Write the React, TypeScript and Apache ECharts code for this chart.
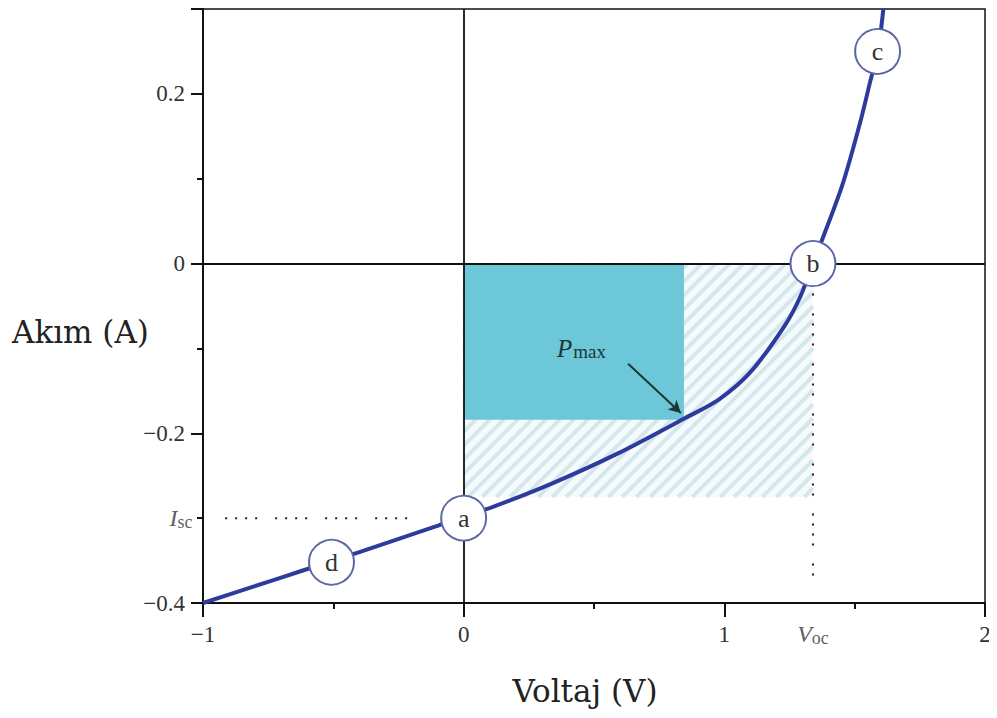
import React, { useEffect, useRef } from "react";
import * as echarts from "echarts";

// I-V curve of a solar cell (voltage V, current A)
const curveV = [-1, -0.81, -0.62, -0.4, -0.11, 0, 0.11, 0.34, 0.59, 0.85, 0.98, 1.1, 1.23, 1.29, 1.34, 1.45, 1.52, 1.56, 1.59, 1.61];
const curveI = [-0.4, -0.381, -0.362, -0.34, -0.31, -0.298, -0.287, -0.259, -0.224, -0.182, -0.16, -0.128, -0.074, -0.04, 0, 0.09, 0.165, 0.215, 0.252, 0.3];

const pointLabels = ["a", "b", "c", "d"];
const pointV = [0, 1.34, 1.588, -0.507];
const pointI = [-0.3, 0, 0.25, -0.352];

const Isc = -0.3;
const Voc = 1.34;
const Pmax = [0.845, -0.184];
const hatchBottom = -0.275;
const iscLineV = [-0.915, -0.16];
const vocLineI = [0, -0.376];
const arrowFrom = [0.631, -0.118];
const arrowTo = [0.833, -0.176];

const xTicks = [-1, 0, 1, 2];
const yTicks = [-0.4, -0.2, 0, 0.2];

const fmt = (v: number) => (v < 0 ? "\u2212" + String(Math.abs(v)) : String(v));

export default function App() {
  const ref = useRef<HTMLDivElement>(null);
  useEffect(() => {
    if (!ref.current) return;
    const chart = echarts.init(ref.current, null, { renderer: "svg" });
    const dot = [2, 8, 2, 8, 2, 8, 2, 18];
    const option: any = {
      animation: false,
      backgroundColor: "#ffffff",
      grid: {
        left: 203,
        right: 12,
        top: 9,
        bottom: 115,
        show: true,
        borderColor: "#111",
        borderWidth: 1.5,
        backgroundColor: "transparent",
      },
      xAxis: {
        type: "value",
        min: -1,
        max: 2,
        interval: 1,
        axisLine: { onZero: false, lineStyle: { color: "#111", width: 2 } },
        axisTick: { show: true, inside: false, length: 14, lineStyle: { color: "#111", width: 2 } },
        minorTick: { show: true, splitNumber: 2, length: 6, lineStyle: { color: "#111", width: 2 } },
        splitLine: { show: false },
        axisLabel: {
          margin: 20,
          fontFamily: "Liberation Serif",
          fontSize: 23,
          color: "#333",
          formatter: (v: number) => (xTicks.includes(v) ? fmt(v) : ""),
        },
      },
      yAxis: {
        type: "value",
        min: -0.4,
        max: 0.3,
        interval: 0.2,
        axisLine: { onZero: false, lineStyle: { color: "#111", width: 2 } },
        axisTick: { show: true, inside: false, length: 12, lineStyle: { color: "#111", width: 2 } },
        minorTick: { show: true, splitNumber: 2, length: 6, lineStyle: { color: "#111", width: 2 } },
        splitLine: { show: false },
        axisLabel: {
          margin: 18,
          fontFamily: "Liberation Serif",
          fontSize: 23,
          color: "#333",
          formatter: (v: number) => {
            const r = Math.round(v * 10) / 10;
            return yTicks.includes(r) ? fmt(r) : "";
          },
        },
      },
      graphic: [
        {
          type: "text",
          x: 12,
          y: 332,
          style: { text: "Akım (A)", font: "31px 'DejaVu Serif'", fill: "#222", textAlign: "left", textVerticalAlign: "middle" },
        },
        {
          type: "text",
          x: 585,
          y: 691,
          style: { text: "Voltaj (V)", font: "31px 'DejaVu Serif'", fill: "#222", textAlign: "center", textVerticalAlign: "middle" },
        },
        {
          type: "text",
          left: 557,
          top: 336,
          z: 50,
          style: {
            text: "{p|P}{m|max}",
            rich: {
              p: { fontFamily: "Liberation Serif", fontStyle: "italic", fontSize: 25, fill: "#1f3535", padding: [0, 1, 0, 0] },
              m: { fontFamily: "Liberation Serif", fontSize: 19, fill: "#1f3535", padding: [5, 0, 0, 0] },
            },
          },
        },
      ],
      series: [
        {
          type: "custom",
          z: 1,
          clip: false,
          silent: true,
          data: [[0, 0, Voc, hatchBottom]],
          renderItem: (params: any, api: any) => {
            const p0 = api.coord([api.value(0), api.value(1)]);
            const p1 = api.coord([api.value(2), api.value(3)]);
            const L = p0[0], T = p0[1], R = p1[0], B = p1[1];
            const children: any[] = [
              { type: "rect", shape: { x: L, y: T, width: R - L, height: B - T }, style: { fill: "#f5fafc" } },
            ];
            const step = 14;
            for (let c = L + T; c <= R + B; c += step) {
              const xa = Math.max(L, c - B);
              const xb = Math.min(R, c - T);
              if (xb > xa) {
                children.push({
                  type: "line",
                  shape: { x1: xa, y1: c - xa, x2: xb, y2: c - xb },
                  style: { stroke: "#d4e7ed", lineWidth: 4 },
                });
              }
            }
            return { type: "group", children };
          },
        },
        {
          type: "custom",
          z: 2,
          clip: false,
          silent: true,
          data: [[0, 0, Pmax[0], Pmax[1]]],
          renderItem: (params: any, api: any) => {
            const p0 = api.coord([api.value(0), api.value(1)]);
            const p1 = api.coord([api.value(2), api.value(3)]);
            return {
              type: "rect",
              shape: { x: p0[0], y: p0[1], width: p1[0] - p0[0], height: p1[1] - p0[1] },
              style: { fill: "#6cc8d8" },
            };
          },
        },
        {
          type: "line",
          z: 3,
          data: [],
          markLine: {
            silent: true,
            symbol: ["none", "none"],
            label: { show: false },
            lineStyle: { color: "#111", width: 1.8, type: "solid" },
            data: [{ xAxis: 0 }, { yAxis: 0 }],
          },
        },
        {
          type: "line",
          z: 3,
          data: [
            [iscLineV[0], Isc],
            [iscLineV[1], Isc],
          ],
          symbol: "none",
          lineStyle: { color: "#222", width: 2, type: dot },
        },
        {
          type: "line",
          z: 3,
          data: [
            [Voc, vocLineI[0]],
            [Voc, vocLineI[1]],
          ],
          symbol: "none",
          lineStyle: { color: "#222", width: 2, type: dot },
        },
        {
          type: "line",
          z: 5,
          smooth: 0.3,
          symbol: "none",
          data: curveV.map((v, i) => [v, curveI[i]]),
          lineStyle: { color: "#2e3a9c", width: 4 },
          markLine: {
            silent: true,
            symbol: ["none", "arrow"],
            symbolSize: [10, 12],
            label: { show: false },
            lineStyle: { color: "#1f3535", width: 2, type: "solid" },
            data: [[{ coord: arrowFrom }, { coord: arrowTo }]],
          },
        },
        {
          type: "scatter",
          z: 8,
          clip: false,
          symbol: "circle",
          symbolSize: 45,
          itemStyle: { color: "#ffffff", opacity: 1, borderColor: "#5d64a8", borderWidth: 2 },
          label: {
            show: true,
            position: "inside",
            fontFamily: "Liberation Serif",
            fontSize: 26,
            color: "#333",
            formatter: (p: any) => pointLabels[p.dataIndex],
          },
          data: pointV.map((v, i) => [v, pointI[i]]),
        },
        {
          type: "scatter",
          z: 8,
          clip: false,
          symbolSize: 1,
          itemStyle: { color: "transparent" },
          label: {
            show: true,
            position: "left",
            distance: 10,
            formatter: "{i|I}{s|sc}",
            rich: {
              i: { fontFamily: "Liberation Serif", fontStyle: "italic", fontSize: 24, color: "#333" },
              s: { fontFamily: "Liberation Serif", fontSize: 18, color: "#333", padding: [8, 0, 0, 0] },
            },
          },
          data: [[-1, Isc]],
        },
        {
          type: "scatter",
          z: 8,
          clip: false,
          symbolSize: 1,
          itemStyle: { color: "transparent" },
          label: {
            show: true,
            position: "bottom",
            distance: 17,
            formatter: "{i|V}{s|oc}",
            rich: {
              i: { fontFamily: "Liberation Serif", fontStyle: "italic", fontSize: 24, color: "#333" },
              s: { fontFamily: "Liberation Serif", fontSize: 18, color: "#333", padding: [8, 0, 0, 0] },
            },
          },
          data: [[Voc, -0.4]],
        },
      ],
    };
    chart.setOption(option);
    return () => chart.dispose();
  }, []);
  return <div ref={ref} style={{ width: 997, height: 718, margin: -8 }} />;
}
